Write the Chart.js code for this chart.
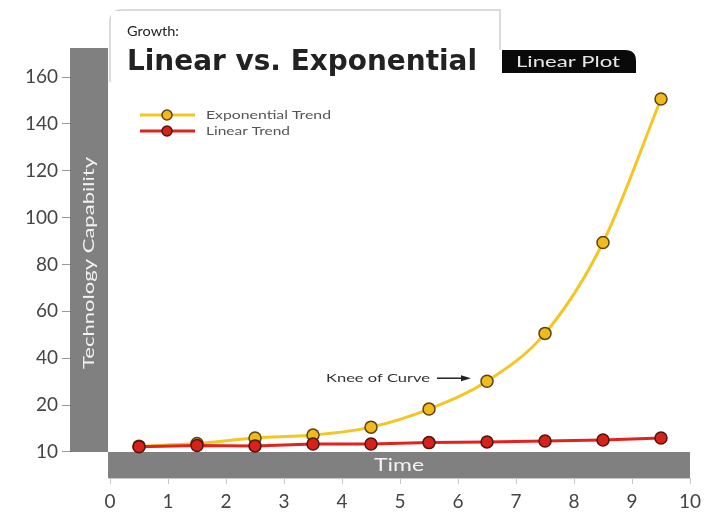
<!DOCTYPE html>
<html>
<head>
<meta charset="utf-8">
<script src="https://cdn.jsdelivr.net/npm/chart.js@4.4.1/dist/chart.umd.min.js"></script>
<style>
  html, body { margin: 0; padding: 0; background: #fff; }
  #wrap { width: 718px; height: 518px; position: relative; }
</style>
</head>
<body>
<div id="wrap"><canvas id="chart"></canvas></div>
<script>
// values (y = 0 sits on the "10" gridline)
const timePoints = [0.5, 1.5, 2.5, 3.5, 4.5, 5.5, 6.5, 7.5, 8.5, 9.5];
const exponentialTrend = [2.5, 3.6, 6, 7.2, 10.6, 18.3, 30.2, 50.6, 89.4, 150.6];
const linearTrend = [2.2, 2.8, 2.6, 3.4, 3.4, 4, 4.3, 4.7, 5.1, 6];
const yTickValues = [0, 20, 40, 60, 80, 100, 120, 140, 160];
const yTickLabels = ['10', '20', '40', '60', '80', '100', '120', '140', '160'];
const xTickValues = [0, 1, 2, 3, 4, 5, 6, 7, 8, 9, 10];

const GRAY = '#808080';
const FONT = 'Lato, "DejaVu Sans", sans-serif';

// draw text squeezed/stretched to a given width
function fitText(ctx, text, x, y, width, font, align) {
  ctx.save();
  ctx.font = font;
  const w = ctx.measureText(text).width;
  const sx = width / w;
  let left = x;
  if (align === 'center') left = x - width / 2;
  if (align === 'right') left = x - width;
  ctx.translate(left, y);
  ctx.scale(sx, 1);
  ctx.textAlign = 'left';
  ctx.fillText(text, 0, 0);
  ctx.restore();
}

const backdrop = {
  id: 'backdrop',
  beforeDatasetsDraw(chart) {
    const { ctx, chartArea, scales } = chart;
    const y0 = scales.y.getPixelForValue(0);
    const xLeft = scales.x.getPixelForValue(0) - 2;
    ctx.save();
    ctx.fillStyle = GRAY;
    // vertical bar
    ctx.fillRect(chartArea.left, 48, xLeft - chartArea.left, y0 - 48);
    // time bar
    ctx.fillRect(xLeft, y0, chartArea.right - xLeft, chartArea.bottom - y0);
    // axis line under time bar
    ctx.strokeStyle = '#c8c8c8';
    ctx.lineWidth = 1;
    ctx.beginPath();
    ctx.moveTo(xLeft, chartArea.bottom + 0.5);
    ctx.lineTo(chartArea.right, chartArea.bottom + 0.5);
    ctx.stroke();

    ctx.fillStyle = '#f2f2f2';
    ctx.textBaseline = 'middle';
    ctx.save();
    ctx.translate((chartArea.left + xLeft) / 2, 263);
    ctx.rotate(-Math.PI / 2);
    fitText(ctx, 'Technology Capability', 0, 0, 212, '16px ' + FONT, 'center');
    ctx.restore();
    fitText(ctx, 'Time', (xLeft + chartArea.right) / 2, (y0 + chartArea.bottom) / 2 + 1, 50, '17px ' + FONT, 'center');
    ctx.restore();
  },
  afterDraw(chart) {
    const { ctx, scales } = chart;
    ctx.save();
    // title box
    ctx.fillStyle = '#fff';
    ctx.strokeStyle = '#d0d0d0';
    ctx.lineWidth = 1.5;
    ctx.beginPath();
    ctx.moveTo(110, 82);
    ctx.lineTo(110, 22);
    ctx.quadraticCurveTo(110, 10, 122, 10);
    ctx.lineTo(500, 10);
    ctx.lineTo(500, 50);
    ctx.fill();
    ctx.stroke();
    ctx.fillRect(111, 11, 388, 70);

    ctx.fillStyle = '#222';
    ctx.textBaseline = 'alphabetic';
    fitText(ctx, 'Growth:', 127, 36, 52, '14px ' + FONT, 'left');
    fitText(ctx, 'Linear vs. Exponential', 127, 70, 350, 'bold 28px "DejaVu Sans", sans-serif', 'left');

    // black tag
    ctx.fillStyle = '#0a0a0a';
    ctx.beginPath();
    ctx.moveTo(502, 50);
    ctx.lineTo(625, 50);
    ctx.quadraticCurveTo(636, 50, 636, 61);
    ctx.lineTo(636, 73);
    ctx.lineTo(502, 73);
    ctx.closePath();
    ctx.fill();
    ctx.fillStyle = '#e8e8e8';
    ctx.textBaseline = 'middle';
    fitText(ctx, 'Linear Plot', 568, 62, 104, '15px ' + FONT, 'center');

    // legend
    const items = chart.data.datasets;
    const rows = [115, 131];
    items.forEach((ds, i) => {
      const y = rows[i];
      ctx.strokeStyle = ds.borderColor;
      ctx.lineWidth = 3;
      ctx.beginPath();
      ctx.moveTo(140, y);
      ctx.lineTo(195, y);
      ctx.stroke();
      ctx.fillStyle = ds.pointBackgroundColor;
      ctx.strokeStyle = ds.pointBorderColor;
      ctx.lineWidth = 1.5;
      ctx.beginPath();
      ctx.arc(167, y, 5, 0, Math.PI * 2);
      ctx.fill();
      ctx.stroke();
      ctx.fillStyle = '#555';
      fitText(ctx, ds.label, 206, y, i === 0 ? 125 : 84, '11px ' + FONT, 'left');
    });

    // knee annotation
    const ky = scales.y.getPixelForValue(exponentialTrend[6]) - 3;
    ctx.fillStyle = '#333';
    fitText(ctx, 'Knee of Curve', 326, ky, 104, '11px ' + FONT, 'left');
    ctx.strokeStyle = '#222';
    ctx.lineWidth = 1.5;
    ctx.beginPath();
    ctx.moveTo(437, ky);
    ctx.lineTo(464, ky);
    ctx.stroke();
    ctx.fillStyle = '#222';
    ctx.beginPath();
    ctx.moveTo(471, ky);
    ctx.lineTo(461, ky - 3);
    ctx.lineTo(461, ky + 3);
    ctx.closePath();
    ctx.fill();
    ctx.restore();
  }
};

new Chart(document.getElementById('chart'), {
  type: 'line',
  data: {
    datasets: [{
      label: 'Exponential Trend',
      data: timePoints.map((t, i) => ({ x: t, y: exponentialTrend[i] })),
      borderColor: '#f5c623',
      borderWidth: 3,
      pointBackgroundColor: '#f0b91c',
      pointBorderColor: '#5b4213',
      pointBorderWidth: 1.5,
      pointRadius: 6,
      cubicInterpolationMode: 'monotone',
      order: 1
    }, {
      label: 'Linear Trend',
      data: timePoints.map((t, i) => ({ x: t, y: linearTrend[i] })),
      borderColor: '#e2231d',
      borderWidth: 3,
      pointBackgroundColor: '#d7221c',
      pointBorderColor: '#4e1510',
      pointBorderWidth: 1.5,
      pointRadius: 6,
      order: 0
    }]
  },
  options: {
    responsive: true,
    maintainAspectRatio: false,
    animation: false,
    layout: { padding: { top: 77, right: 28, left: 0, bottom: 0 } },
    plugins: { legend: { display: false }, tooltip: { enabled: false } },
    scales: {
      x: {
        type: 'linear',
        min: -0.69,
        max: 10,
        afterBuildTicks: s => { s.ticks = xTickValues.map(v => ({ value: v })); },
        afterFit: s => { s.height = 40; },
        border: { display: false },
        grid: { drawOnChartArea: false, drawTicks: true, tickLength: 6, color: '#c8c8c8' },
        ticks: { color: '#444', font: { family: FONT, size: 19 }, padding: 6, maxRotation: 0 }
      },
      y: {
        min: -11.1,
        max: 160,
        afterBuildTicks: s => { s.ticks = yTickValues.map(v => ({ value: v })); },
        afterFit: s => { s.width = 70; },
        border: { display: false },
        grid: { drawOnChartArea: false, drawTicks: true, tickLength: 8, color: '#999' },
        ticks: {
          color: '#444',
          font: { family: FONT, size: 19 },
          padding: 4,
          callback: v => yTickLabels[yTickValues.indexOf(v)]
        }
      }
    }
  },
  plugins: [backdrop]
});
</script>
</body>
</html>
